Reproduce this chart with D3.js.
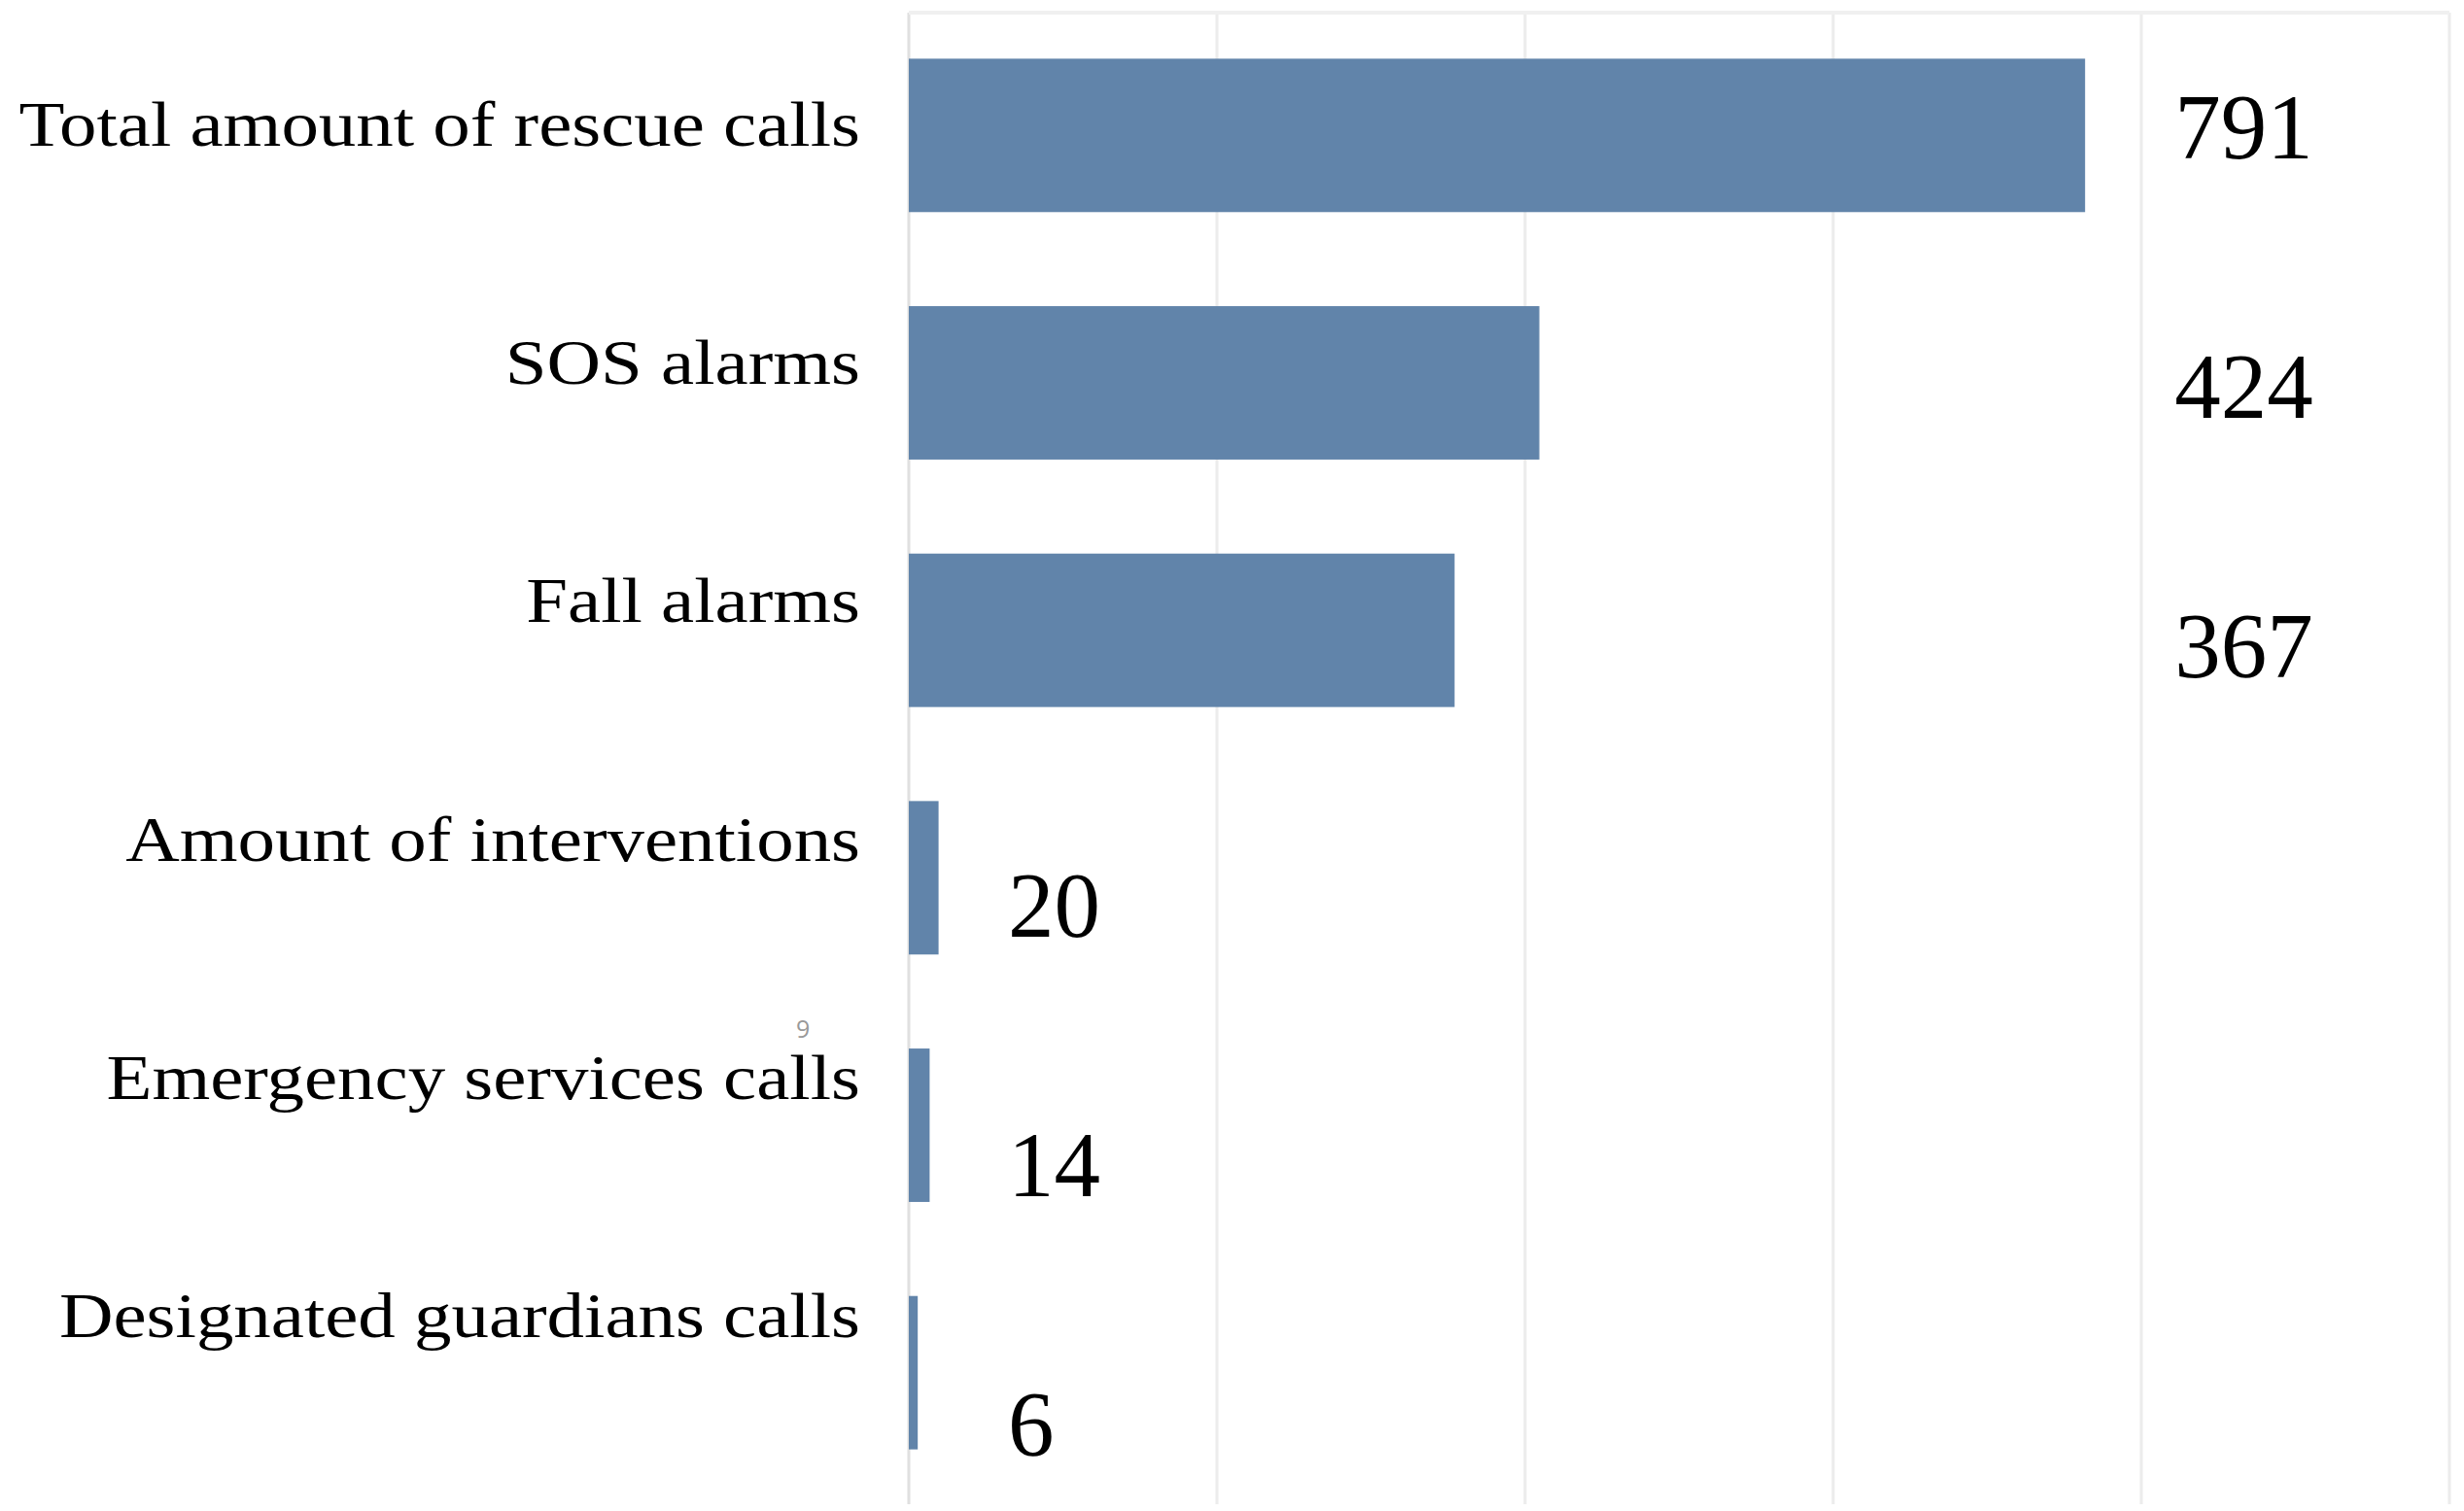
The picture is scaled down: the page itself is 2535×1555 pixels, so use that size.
<!DOCTYPE html>
<html>
<head>
<meta charset="utf-8">
<script src="https://cdn.jsdelivr.net/npm/d3@7"></script>
<style>
  body { margin: 0; background: #fff; }
  svg { display: block; }
</style>
</head>
<body>
<div id="chart"></div>
<script>
var width = 2535,
    height = 1555;

// data
var categories = ["Total amount of rescue calls", "SOS alarms", "Fall alarms",
                  "Amount of interventions", "Emergency services calls", "Designated guardians calls"];
var values = [791, 424, 367, 20, 14, 6];
var xMax = 1036;

var margin = {top: 13, right: 15, bottom: 7, left: 935};

var svg = d3.select("#chart").append("svg")
    .attr("width", width)
    .attr("height", height);

var x = d3.scaleLinear()
    .domain([0, xMax])
    .range([margin.left, width - margin.right]);

var y = d3.scaleBand()
    .domain(categories)
    .range([12, 1540])
    .paddingInner(0.38)
    .paddingOuter(0.19);

// labels in the source sit on their own rhythm, not on the bar centres
var yCat = d3.scalePoint().domain(categories).range([150, 1376]);
var yVal = d3.scalePoint().domain(categories).range([163, 1498]);

// grid (5 equal divisions, no tick labels)
var gridVals = d3.range(6).map(function(i) { return i * xMax / 5; });

svg.append("g")
  .selectAll("line")
  .data(gridVals)
  .enter().append("line")
    .attr("x1", function(d) { return x(d); })
    .attr("x2", function(d) { return x(d); })
    .attr("y1", margin.top)
    .attr("y2", height - margin.bottom)
    .attr("stroke", function(d, i) { return i == 0 ? "#e0e0e0" : "#ececec"; })
    .attr("stroke-width", 3);

svg.append("line")
    .attr("x1", x(0))
    .attr("x2", x(xMax))
    .attr("y1", margin.top)
    .attr("y2", margin.top)
    .attr("stroke", "#f0f0f0")
    .attr("stroke-width", 4);

// bars
svg.append("g")
  .selectAll("rect")
  .data(values)
  .enter().append("rect")
    .attr("x", x(0))
    .attr("y", function(d, i) { return y(categories[i]); })
    .attr("width", function(d) { return x(d) - x(0); })
    .attr("height", y.bandwidth())
    .attr("fill", "#6184aa");

// category labels (slightly stretched horizontally, as in the source)
svg.append("g")
    .attr("transform", "translate(885,0) scale(1.165,1)")
    .attr("font-family", "'Liberation Serif', 'Times New Roman', serif")
    .attr("font-size", 66)
    .attr("text-anchor", "end")
    .attr("fill", "#000")
  .selectAll("text")
  .data(categories)
  .enter().append("text")
    .attr("x", 0)
    .attr("y", function(d) { return yCat(d); })
    .text(function(d) { return d; });

// value labels
var maxVal = d3.max(values);
svg.append("g")
    .attr("font-family", "'Liberation Serif', 'Times New Roman', serif")
    .attr("font-size", 95)
    .attr("fill", "#000")
  .selectAll("text")
  .data(values)
  .enter().append("text")
    .attr("x", function(d) { return d > 100 ? x(maxVal) + 92 : x(0) + 102; })
    .attr("y", function(d, i) { return yVal(categories[i]); })
    .text(function(d) { return d; });

// stray page number from the source
svg.append("text")
    .attr("x", 819)
    .attr("y", 1068)
    .attr("font-family", "'Open Sans', sans-serif")
    .attr("font-size", 25)
    .attr("fill", "#999")
    .text("9");
</script>
</body>
</html>
